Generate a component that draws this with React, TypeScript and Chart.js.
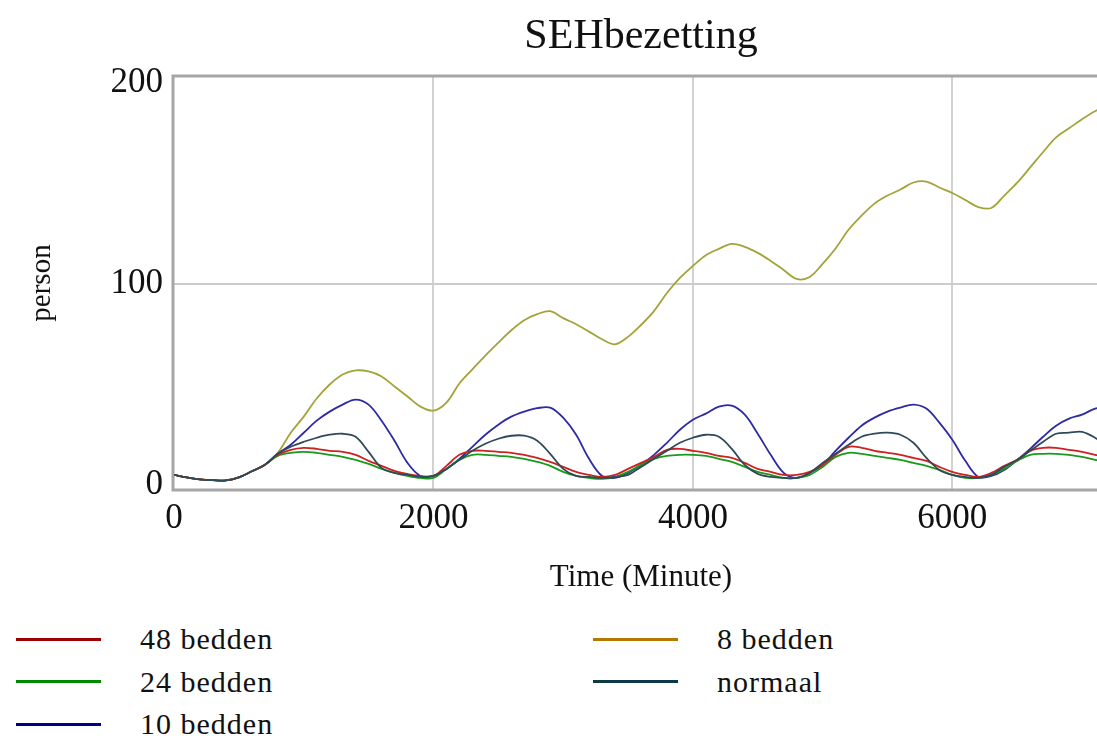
import React, { useEffect, useRef } from "react";
import { Chart, registerables } from "chart.js";

Chart.register(...registerables);

const FONT = "'Liberation Serif', 'Times New Roman', serif";

const TITLE = "SEHbezetting";
const X_TITLE = "Time (Minute)";
const Y_TITLE = "person";
const X_TICKS = [0, 2000, 4000, 6000];
const Y_TICKS = [0, 100, 200];

const TIME = [
  0, 100, 200, 300, 400, 500, 600, 700, 800, 900,
  1000, 1100, 1200, 1300, 1400, 1500, 1600, 1700, 1800, 1900,
  2000, 2100, 2200, 2300, 2400, 2500, 2600, 2700, 2800, 2900,
  3000, 3100, 3200, 3300, 3400, 3500, 3600, 3700, 3800, 3900,
  4000, 4100, 4200, 4300, 4400, 4500, 4600, 4700, 4800, 4900,
  5000, 5100, 5200, 5300, 5400, 5500, 5600, 5700, 5800, 5900,
  6000, 6100, 6200, 6300, 6400, 6500, 6600, 6700, 6800, 6900,
  7000, 7100, 7200,
];

const BEDDEN_48 = [
  5, 3.8, 2.8, 2.4, 2.3, 3.8, 6.8, 10, 15, 17.5,
  18.5, 18, 17, 16.5, 15, 12, 9.5, 7, 5.5, 4.5,
  4.5, 9.5, 15, 17, 17, 16.5, 16, 15, 13.5, 11.5,
  9, 6.5, 5, 4, 5, 8, 11, 14, 17.5, 18,
  17, 16, 14.5, 13.5, 11, 8, 6.5, 5, 5, 6.5,
  10, 15, 19, 18.5, 17, 16, 15, 13.5, 12, 9,
  6.5, 5, 4, 6, 9.5, 12.5, 17, 18.5, 18.5, 17.5,
  16.5, 15, 14.5,
];

const BEDDEN_24 = [
  5, 3.8, 2.8, 2.4, 2.3, 3.8, 6.8, 10, 14.5, 16,
  16.5, 16, 15, 14, 12.5, 10.5, 8, 6, 4.5, 3.5,
  3.5, 8, 12.5, 15, 15, 14.5, 14, 13, 11.5, 9.5,
  6.5, 4.5, 3.5, 3, 4, 6.5, 10, 13, 14.5, 15,
  15, 14.5, 13, 11.5, 9, 6.5, 5, 3.5, 3.5, 5,
  9, 14, 16, 15.5, 14.5, 13.5, 12.5, 11, 9.5, 7.5,
  5, 3.5, 3.5, 5, 8, 12, 15, 15.5, 15.5, 15,
  14, 12.5, 12,
];

const BEDDEN_10 = [
  5, 3.8, 2.8, 2.4, 2.3, 3.8, 6.8, 10, 15.5, 20,
  26, 32, 36.5, 40, 42.5, 40, 32, 22, 11, 4.5,
  4.5, 8, 13, 19, 25, 30, 34, 36.5, 38.2, 38.5,
  33.5, 25, 13, 4.5, 3.5, 6, 10, 15, 21, 27.5,
  32.5, 35.5, 39, 39.5, 35, 25.5, 15, 6, 3.5, 6,
  10, 17, 23.5, 29.5, 33.5, 36.5, 38.5, 40, 38, 31,
  22.5, 12, 4, 4.5, 7.5, 12.5, 18, 24, 29.5, 33,
  35, 38, 39,
];

const BEDDEN_8 = [
  5, 3.8, 2.8, 2.4, 2.3, 3.8, 6.8, 10, 16, 26,
  34, 43, 50, 55, 57, 56.5, 54, 49, 44, 39,
  37, 41, 50.5, 57.5, 64.4, 70.8, 77, 82, 85, 86.5,
  83, 80, 76.3, 72.5, 70, 73.7, 79.6, 86.5, 95.5, 103,
  109, 114.3, 117.5, 120, 118.5, 115.5, 111.5, 107, 102.5, 103.5,
  110, 117.7, 127, 134, 140, 144, 147, 150.5, 151, 148,
  145.3, 141.8, 138.3, 137.8, 144, 150.4, 158, 165.7, 173, 177.5,
  182, 186, 189,
];

const NORMAAL = [
  5, 3.8, 2.8, 2.4, 2.3, 3.8, 6.8, 10, 15.5, 19,
  21.5, 23.5, 25, 25.5, 24, 16.5, 8.5, 6, 5, 4,
  4.5, 8, 12.5, 17, 20.5, 23, 24.5, 24.5, 22, 15.5,
  8, 4.5, 4, 3.5, 4, 5, 9, 13, 17, 21,
  23.5, 25, 24, 18, 10, 5.5, 4, 3.5, 3.5, 6,
  11, 15.5, 20, 24, 25.5, 26, 25, 21, 13.5, 7.5,
  5, 4, 3.5, 5, 9, 12.5, 17, 21.5, 25.5, 26,
  26.4, 23.5, 19,
];

type Series = {
  label: string;
  values: number[];
  lineColor: string;
  legendColor: string;
};

const SERIES: Series[] = [
  { label: "48 bedden", values: BEDDEN_48, lineColor: "#cc2222", legendColor: "#990000" },
  { label: "24 bedden", values: BEDDEN_24, lineColor: "#1a9a1a", legendColor: "#008800" },
  { label: "10 bedden", values: BEDDEN_10, lineColor: "#2e2aa4", legendColor: "#000080" },
  { label: "8 bedden", values: BEDDEN_8, lineColor: "#a3a33a", legendColor: "#b87800" },
  { label: "normaal", values: NORMAAL, lineColor: "#2e4a58", legendColor: "#0d3a47" },
];

// draw order: first dataset on top
const DRAW_ORDER = ["normaal", "48 bedden", "24 bedden", "10 bedden", "8 bedden"];

const LEGEND_SLOTS: { label: string; col: number; row: number }[] = [
  { label: "48 bedden", col: 0, row: 0 },
  { label: "24 bedden", col: 0, row: 1 },
  { label: "10 bedden", col: 0, row: 2 },
  { label: "8 bedden", col: 1, row: 0 },
  { label: "normaal", col: 1, row: 1 },
];

const plotBorder = {
  id: "plotBorder",
  beforeDatasetsDraw(chart: any) {
    const { ctx, chartArea: a } = chart;
    ctx.save();
    ctx.strokeStyle = "#a6a6a6";
    ctx.lineWidth = 3;
    ctx.strokeRect(a.left - 1, a.top, a.right - a.left + 1, a.bottom - a.top);
    ctx.restore();
  },
};

const centeredTitle = {
  id: "centeredTitle",
  afterDraw(chart: any) {
    const { ctx, chartArea: a } = chart;
    ctx.save();
    ctx.fillStyle = "#111";
    ctx.font = `42px ${FONT}`;
    ctx.textAlign = "center";
    ctx.textBaseline = "alphabetic";
    ctx.fillText(TITLE, (a.left + a.right) / 2, 48);
    ctx.restore();
  },
};

export default function App() {
  const canvasRef = useRef<HTMLCanvasElement | null>(null);

  useEffect(() => {
    const canvas = canvasRef.current;
    if (!canvas) return;
    const datasets = DRAW_ORDER.map((name) => {
      const s = SERIES.find((q) => q.label === name)!;
      return {
        label: s.label,
        data: TIME.map((t, i) => ({ x: t, y: s.values[i] })),
        borderColor: s.lineColor,
        backgroundColor: s.lineColor,
        borderWidth: 1.8,
        pointRadius: 0,
        tension: 0.35,
        fill: false,
      };
    });

    const chart = new Chart(canvas, {
      type: "line",
      data: { datasets },
      plugins: [plotBorder, centeredTitle],
      options: {
        animation: false,
        responsive: false,
        devicePixelRatio: 1,
        layout: { padding: { left: 0, right: 174, top: 76, bottom: 0 } },
        plugins: {
          legend: { display: false },
          tooltip: { enabled: false },
          title: { display: false },
        },
        scales: {
          x: {
            type: "linear",
            min: 0,
            max: 7200,
            afterBuildTicks: (s: any) => {
              s.ticks = X_TICKS.map((v) => ({ value: v }));
            },
            afterFit: (s: any) => {
              s.height = 110;
            },
            grid: {
              color: (c: any) => (c.tick && c.tick.value > 0 ? "#d2d2d2" : "rgba(0,0,0,0)"),
              lineWidth: 2,
              drawTicks: false,
            },
            border: { display: false },
            ticks: {
              color: "#111",
              font: { family: FONT, size: 35 },
              padding: 8,
              maxRotation: 0,
              autoSkip: false,
              callback: (v: any) => String(v),
            },
            title: {
              display: true,
              text: X_TITLE,
              color: "#111",
              font: { family: FONT, size: 31 },
              padding: { top: 0, bottom: 4 },
            },
          },
          y: {
            type: "linear",
            min: -2.5,
            max: 203.5,
            afterBuildTicks: (s: any) => {
              s.ticks = Y_TICKS.map((v) => ({ value: v }));
            },
            afterFit: (s: any) => {
              s.width = 174;
            },
            grid: {
              color: (c: any) => (c.tick && c.tick.value === 100 ? "#cccccc" : "rgba(0,0,0,0)"),
              lineWidth: 2,
              drawTicks: false,
            },
            border: { display: false },
            ticks: {
              color: "#111",
              font: { family: FONT, size: 35 },
              padding: 11,
              callback: (v: any) => String(v),
            },
            title: {
              display: true,
              text: Y_TITLE,
              color: "#111",
              font: { family: FONT, size: 29 },
              padding: { top: 25, bottom: 0 },
            },
          },
        },
      },
    });
    return () => chart.destroy();
  }, []);

  return (
    <div
      style={{
        position: "absolute",
        left: 0,
        top: 0,
        width: 1097,
        height: 736,
        overflow: "hidden",
        background: "#fff",
      }}
    >
      <canvas
        ref={canvasRef}
        width={1282}
        height={600}
        style={{ position: "absolute", left: 0, top: 0, width: 1282, height: 600 }}
      />
      {LEGEND_SLOTS.map((slot) => {
        const s = SERIES.find((q) => q.label === slot.label)!;
        const lineLeft = slot.col === 0 ? 16 : 593;
        const textLeft = slot.col === 0 ? 140 : 717;
        const lineY = 639 + slot.row * 42.5;
        const baseline = 649 + slot.row * 42.5;
        return (
          <React.Fragment key={slot.label}>
            <div
              style={{
                position: "absolute",
                left: lineLeft,
                top: lineY - 1.5,
                width: 85,
                height: 3,
                background: s.legendColor,
              }}
            />
            <div
              style={{
                position: "absolute",
                left: textLeft,
                top: baseline - 25,
                fontFamily: FONT,
                fontSize: 30,
                lineHeight: "30px",
                letterSpacing: "1px",
                color: "#111",
                whiteSpace: "nowrap",
              }}
            >
              {s.label}
            </div>
          </React.Fragment>
        );
      })}
    </div>
  );
}
